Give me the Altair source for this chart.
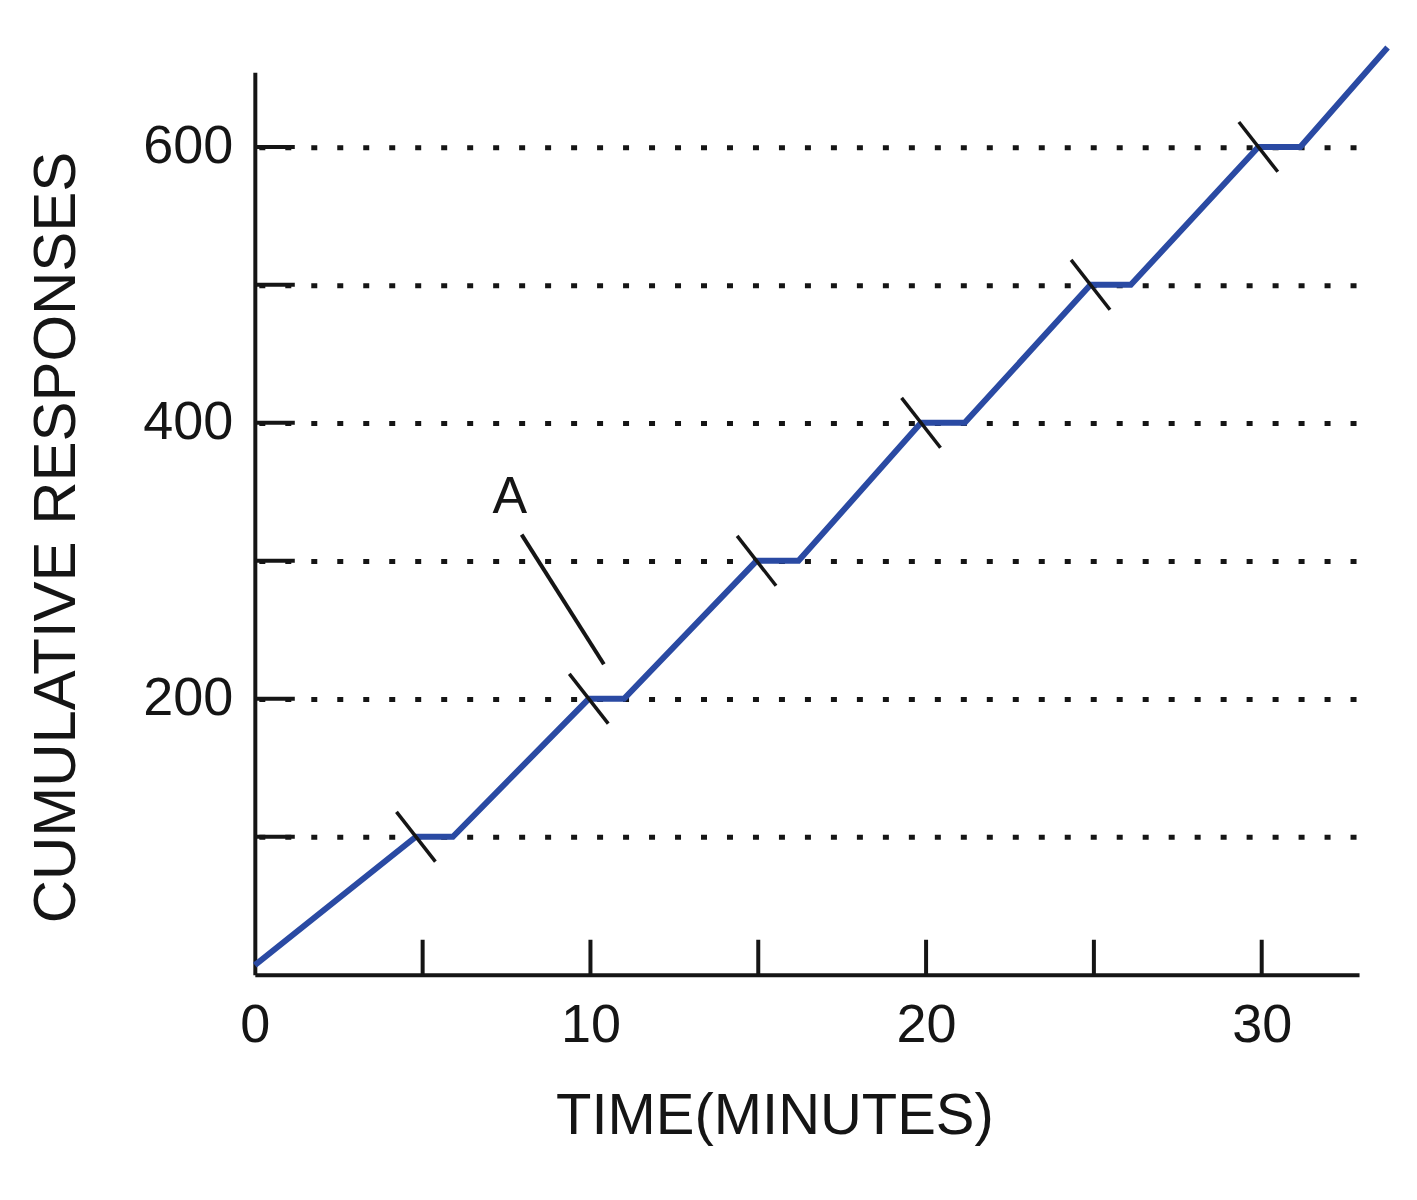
import altair as alt
import pandas as pd

# cumulative record (time in minutes, cumulative responses)
time_min = [0, 4.8, 5.9, 9.95, 11.0, 14.95, 16.2, 19.85, 21.15, 24.9, 26.1, 29.9, 31.15, 33.75]
cum_resp = [7, 100, 100, 200, 200, 300, 300, 400, 400, 500, 500, 600, 600, 672]

# reinforcement hatch marks
reinf_time = [4.8, 9.95, 14.95, 19.85, 24.9, 29.9]
reinf_resp = [100, 200, 300, 400, 500, 600]

# axis ticks
y_ticks = [100, 200, 300, 400, 500, 600]
x_ticks = [5, 10, 15, 20, 25, 30]
x_labels = [0, 10, 20, 30]

# annotation "A"
ann_text = ["A"]
ann_time = [7.6]
ann_resp = [346]
leader_time = [7.95]
leader_resp = [319]
leader_time2 = [10.4]
leader_resp2 = [225]

FONT = "Liberation Sans"
INK = "#151515"
BLUE = "#2a4aa3"
W, H = 1105, 903

xs = alt.Scale(domain=[0, 32.9], nice=False, zero=False)
ys = alt.Scale(domain=[0, 654], nice=False, zero=False)

line_df = pd.DataFrame({"t": time_min, "r": cum_resp})
reinf_df = pd.DataFrame({"t": reinf_time, "r": reinf_resp})
yt_df = pd.DataFrame({"v": y_ticks})
xt_df = pd.DataFrame({"v": x_ticks})
ann_df = pd.DataFrame({"txt": ann_text, "t": ann_time, "r": ann_resp})
lead_df = pd.DataFrame({"t": leader_time, "r": leader_resp, "t2": leader_time2, "r2": leader_resp2})

base = alt.Chart(line_df).mark_line(color=BLUE, strokeWidth=6, clip=False).encode(
    x=alt.X("t:Q", scale=xs,
            axis=alt.Axis(values=x_labels, title="TIME(MINUTES)", ticks=False, tickSize=0,
                          grid=False, domainColor=INK, domainWidth=4, labelFlush=False,
                          labelFont=FONT, labelFontSize=54, labelColor=INK, labelPadding=24,
                          titleFont=FONT, titleFontSize=58, titleFontWeight="normal", titleColor=INK,
                          titleX=520, titleY=142, titleBaseline="middle", titleAlign="center")),
    y=alt.Y("r:Q", scale=ys,
            axis=alt.Axis(values=y_ticks, title="CUMULATIVE RESPONSES", ticks=False, tickSize=0,
                          labelExpr="datum.value % 200 == 0 ? datum.label : ''",
                          grid=True, gridColor=INK, gridWidth=5, gridDash=[6, 20], gridDashOffset=22,
                          domainColor=INK, domainWidth=4,
                          labelFont=FONT, labelFontSize=54, labelColor=INK, labelPadding=22,
                          titleFont=FONT, titleFontSize=60, titleFontWeight="normal", titleColor=INK,
                          titleX=-198, titleY=465, titleAngle=-90, titleBaseline="middle",
                          titleAlign="center")),
)

ytick_rules = alt.Chart(yt_df).mark_rule(color=INK, strokeWidth=4).encode(
    y=alt.Y("v:Q", scale=ys), x=alt.value(0), x2=alt.value(40)
)
xtick_rules = alt.Chart(xt_df).mark_rule(color=INK, strokeWidth=4).encode(
    x=alt.X("v:Q", scale=xs), y=alt.value(H - 35), y2=alt.value(H)
)
hatches = alt.Chart(reinf_df).mark_point(shape="stroke", angle=52, size=4000, strokeWidth=3.5,
                                         color=INK, filled=False, opacity=1, clip=False).encode(
    x=alt.X("t:Q", scale=xs), y=alt.Y("r:Q", scale=ys)
)
ann = alt.Chart(ann_df).mark_text(font=FONT, fontSize=52, color=INK).encode(
    x=alt.X("t:Q", scale=xs), y=alt.Y("r:Q", scale=ys), text="txt:N"
)
leader = alt.Chart(lead_df).mark_rule(color=INK, strokeWidth=4).encode(
    x=alt.X("t:Q", scale=xs), y=alt.Y("r:Q", scale=ys), x2="t2:Q", y2="r2:Q"
)

chart = alt.layer(xtick_rules, ytick_rules, base, hatches, leader, ann).properties(
    width=W, height=H,
    autosize=alt.AutoSizeParams(type="none"),
    padding={"left": 247, "top": 64, "right": 50, "bottom": 200},
    background="white",
).configure_view(stroke=None)

chart.save("out.html", embed_options={"renderer": "svg", "actions": False})
